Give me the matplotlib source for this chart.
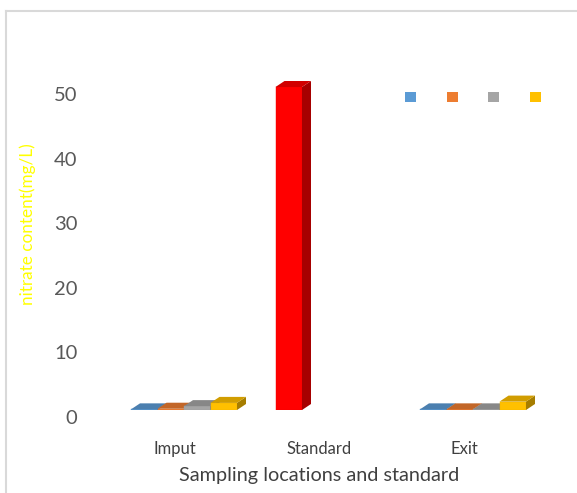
import numpy as np
import matplotlib
matplotlib.use("Agg")
import matplotlib.pyplot as plt
from matplotlib.patches import Polygon, Patch
from matplotlib.lines import Line2D
from matplotlib.transforms import ScaledTranslation
from matplotlib.colors import to_rgb

categories = ["Imput", "Standard", "Exit"]
series_colors = ["#5B9BD5", "#ED7D31", "#A5A5A5", "#FFC000"]
series1 = [0.1, 50.0, 0.1]
series2 = [0.2, np.nan, 0.1]
series3 = [0.6, np.nan, 0.1]
series4 = [1.1, np.nan, 1.3]
series = [series1, series2, series3, series4]
point_colors = {(0, 1): "#FF0000"}
yticks = [0, 10, 20, 30, 40, 50]

W, H = 577, 493
DPI = 100
fig = plt.figure(figsize=(W / DPI, H / DPI), dpi=DPI)
fig.patch.set_facecolor("white")

# outer chart frame (left and top edges visible; others run off the picture)
fig.lines.append(Line2D([5.5 / W, 5.5 / W], [-0.1, 1 - 11 / H], transform=fig.transFigure,
                        color="#D9D9D9", linewidth=1.5))
fig.lines.append(Line2D([5.5 / W, 1.1], [1 - 11 / H, 1 - 11 / H], transform=fig.transFigure,
                        color="#D9D9D9", linewidth=1.5))

ax_l, ax_r, ax_b, ax_t = 90, 560, 410, 60
ax = fig.add_axes([ax_l / W, (H - ax_b) / H, (ax_r - ax_l) / W, (ax_b - ax_t) / H])
px_x = 144.5
px_y = 6.46
c0 = 184
ax.set_xlim((ax_l - c0) / px_x, (ax_r - c0) / px_x)
ax.set_ylim(0, (ax_b - ax_t) / px_y)
for s in ax.spines.values():
    s.set_visible(False)
ax.set_facecolor("none")

# depth of pseudo-3D in data units
ddx = 9 / px_x
ddy = 6 / px_y

bw = 26.5 / px_x
x = np.arange(len(categories))
n = len(series)


def shade(c, f):
    r, g, b = to_rgb(c)
    return (r * f, g * f, b * f)


z = 2
for ci in range(len(categories)):
    for si in range(n):
        v = series[si][ci]
        if v is None or np.isnan(v):
            continue
        col = point_colors.get((si, ci), series_colors[si])
        x0 = x[ci] - n * bw / 2 + si * bw
        x1 = x0 + bw
        ax.bar(x0, v, width=bw, align="edge", color=col, edgecolor=shade(col, 0.95),
               linewidth=0.3, zorder=z)
        side = Polygon([(x1, 0), (x1, v), (x1 + ddx, v + ddy), (x1 + ddx, ddy)], closed=True,
                       facecolor=shade(col, 0.65), edgecolor="none", zorder=z)
        top = Polygon([(x0, v), (x1, v), (x1 + ddx, v + ddy), (x0 + ddx, v + ddy)], closed=True,
                      facecolor=shade(col, 0.82), edgecolor="none", zorder=z)
        ax.add_patch(side)
        ax.add_patch(top)
        z += 1

font = "Lato"
ax.set_yticks(yticks)
ax.set_yticklabels([str(t) for t in yticks], fontsize=14.5, color="#595959", family=font)
ax.tick_params(axis="y", length=0, pad=9)
for lab in ax.get_yticklabels():
    lab.set_transform(lab.get_transform() + ScaledTranslation(0, -7 / DPI, fig.dpi_scale_trans))

ax.set_xticks(x)
ax.set_xticklabels(categories, fontsize=12, color="#404040", family=font)
ax.tick_params(axis="x", length=0, pad=22)
for lab in ax.get_xticklabels():
    lab.set_transform(lab.get_transform() + ScaledTranslation(-9 / DPI, 0, fig.dpi_scale_trans))

fig.text(319 / W, 1 - 475 / H, "Sampling locations and standard", ha="center", va="center",
         fontsize=14.3, color="#404040", family=font)
fig.text(28 / W, 1 - 224 / H, "nitrate content(mg/L)", ha="center", va="center", rotation=90,
         fontsize=12.3, color="#FFFF00", family=font)

handles = [Patch(facecolor=c, edgecolor="none") for c in series_colors]
leg = fig.legend(handles, [""] * 4, ncol=4, loc="center", bbox_to_anchor=(473 / W, 1 - 98 / H),
                 frameon=False, handlelength=0.8, handleheight=0.8, handletextpad=0.0,
                 columnspacing=2.2, fontsize=10)

fig.savefig("out.png", dpi=DPI, facecolor="white")
